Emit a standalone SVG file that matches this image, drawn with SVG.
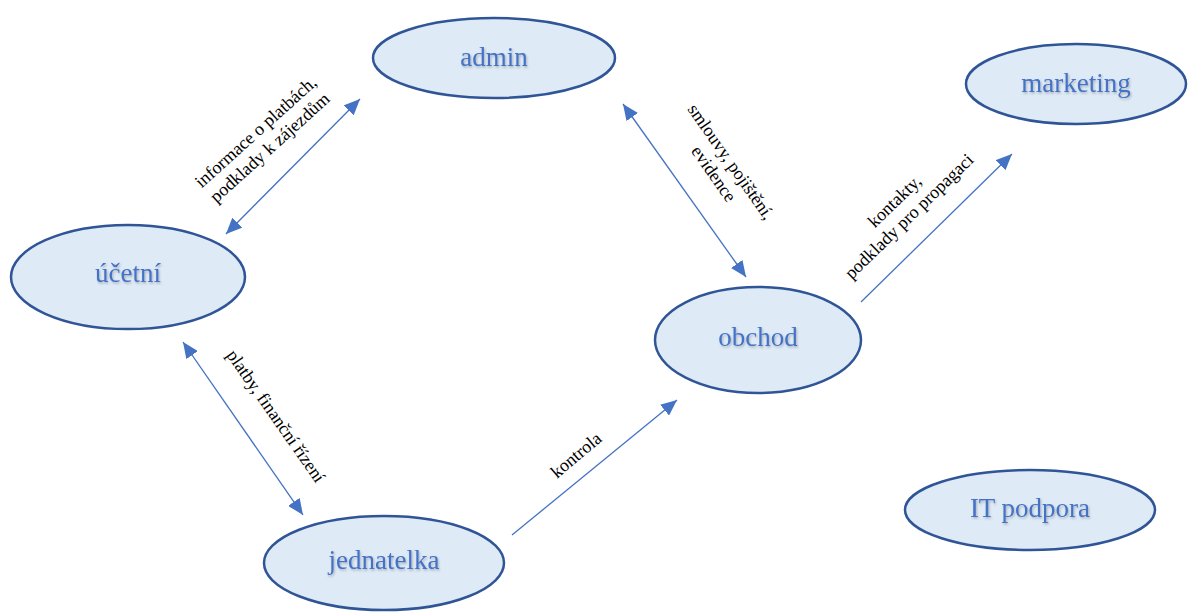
<svg xmlns="http://www.w3.org/2000/svg" width="1189" height="614" viewBox="0 0 1189 614">
<style>
.node ellipse{fill:#DEEAF6;stroke:#2F5597;stroke-width:2.5}
.node text{font-family:"Liberation Serif",serif;font-size:27px;fill:#4472C4;text-anchor:middle;filter:url(#sh)}
.conn line{stroke:#4472C4;stroke-width:1.3;fill:none}
.lbl{font-family:"Liberation Serif",serif;font-size:18px;fill:#000;text-anchor:middle}
</style>
<defs>
<marker id="ah" viewBox="0 0 16 14" refX="16" refY="7" markerWidth="16" markerHeight="14" markerUnits="userSpaceOnUse" orient="auto-start-reverse">
<path d="M0,0 L16,7 L0,14 Z" fill="#4472C4"/>
</marker>
<filter id="sh" x="-20%" y="-20%" width="140%" height="160%">
<feDropShadow dx="1" dy="1.5" stdDeviation="1" flood-color="#000" flood-opacity="0.25"/>
</filter>
</defs>
<rect width="1189" height="614" fill="#fff"/>
<g id="connectors" class="conn">
<line x1="226" y1="234" x2="360" y2="99" marker-start="url(#ah)" marker-end="url(#ah)"/>
<line x1="623" y1="104" x2="746" y2="277" marker-start="url(#ah)" marker-end="url(#ah)"/>
<line x1="861" y1="302" x2="1012" y2="154" marker-end="url(#ah)"/>
<line x1="183" y1="342" x2="303" y2="515" marker-start="url(#ah)" marker-end="url(#ah)"/>
<line x1="512" y1="535" x2="677" y2="400" marker-end="url(#ah)"/>
</g>
<g id="labels">
<text class="lbl" transform="translate(263,140) rotate(-42)"><tspan x="0" y="-5">informace o platbách,</tspan><tspan x="0" y="16">podklady k zájezdům</tspan></text>
<text class="lbl" transform="translate(722,168) rotate(55)"><tspan x="0" y="-5">smlouvy, pojištění,</tspan><tspan x="0" y="16">evidence</tspan></text>
<text class="lbl" transform="translate(902,209) rotate(-44)"><tspan x="0" y="-5">kontakty,</tspan><tspan x="0" y="16">podklady pro propagaci</tspan></text>
<text class="lbl" transform="translate(276,416) rotate(55)"><tspan x="0" y="6">platby, finanční řízení</tspan></text>
<text class="lbl" transform="translate(576,455) rotate(-40)"><tspan x="0" y="6">kontrola</tspan></text>
</g>
<g id="admin" class="node"><ellipse cx="494" cy="58" rx="121" ry="40"/><text x="494" y="66">admin</text></g>
<g id="marketing" class="node"><ellipse cx="1076" cy="84" rx="110" ry="40"/><text x="1076" y="92">marketing</text></g>
<g id="ucetni" class="node"><ellipse cx="128" cy="277" rx="117" ry="52"/><text x="128" y="282">účetní</text></g>
<g id="obchod" class="node"><ellipse cx="758" cy="340" rx="103" ry="53"/><text x="758" y="346">obchod</text></g>
<g id="jednatelka" class="node"><ellipse cx="384" cy="563" rx="120" ry="47"/><text x="384" y="569">jednatelka</text></g>
<g id="it" class="node"><ellipse cx="1030" cy="510" rx="125" ry="40"/><text x="1030" y="517">IT podpora</text></g>
</svg>
